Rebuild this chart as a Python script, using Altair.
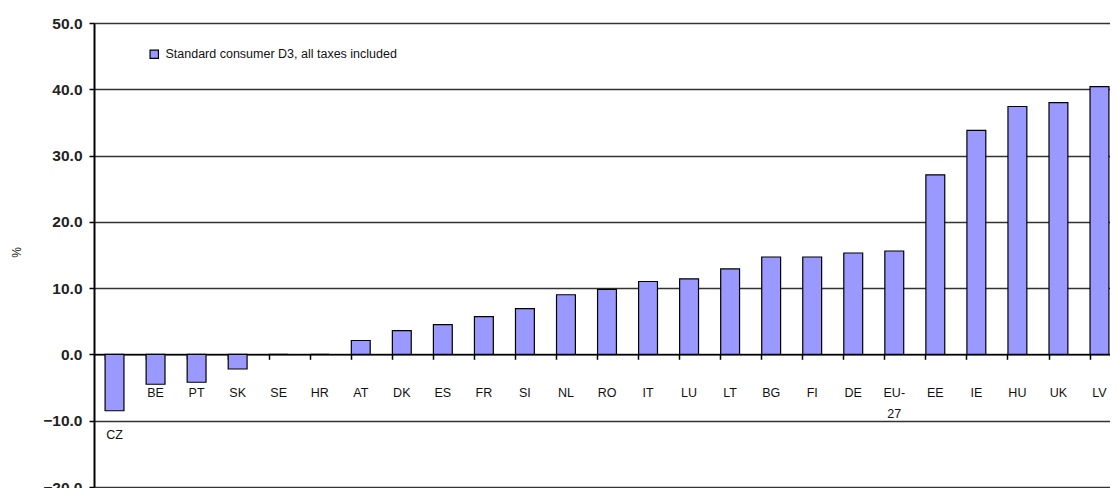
import altair as alt
import pandas as pd

countries = ["CZ", "BE", "PT", "SK", "SE", "HR", "AT", "DK", "ES", "FR", "SI", "NL", "RO",
             "IT", "LU", "LT", "BG", "FI", "DE", "EU-27", "EE", "IE", "HU", "UK", "LV"]
values = [-8.5, -4.5, -4.2, -2.2, 0.0, 0.0, 2.1, 3.6, 4.5, 5.7, 6.9, 9.0, 9.8,
          11.0, 11.4, 12.9, 14.7, 14.7, 15.3, 15.6, 27.1, 33.8, 37.4, 38.0, 40.4]
series_name = "Standard consumer D3, all taxes included"
y_ticks = [-20, -10, 0, 10, 20, 30, 40, 50]

df = pd.DataFrame({"country": countries, "value": values, "series": series_name})

FONT = "Liberation Sans"

x_enc = alt.X(
    "country:N",
    sort=None,
    scale=alt.Scale(paddingInner=0.54, paddingOuter=0.27, range=[0, 1026]),
    axis=alt.Axis(
        orient="bottom", offset=-132.7, labels=False, title=None,
        bandPosition=0, ticks=True, tickSize=5, tickColor="black", tickWidth=1.5,
        domain=True, domainColor="black", domainWidth=1.5, grid=False,
    ),
)

y_scale = alt.Scale(domain=[-20, 50], nice=False, zero=False)

bars = alt.Chart(df).mark_bar(stroke="black", strokeWidth=1.2).encode(
    x=x_enc,
    y=alt.Y(
        "value:Q",
        scale=y_scale,
        axis=alt.Axis(
            values=y_ticks, format=".1f", title="%", titleFont=FONT, titleFontSize=12,
            titleFontWeight="normal", titleColor="#222", titleX=-78, titleY=229,
            titleBaseline="middle", titleAlign="center",
            labelFont=FONT, labelFontSize=15.5, labelFontWeight="bold",
            labelColor="#222", labelPadding=7,
            tickSize=5, tickColor="black", tickWidth=1.5,
            domain=True, domainColor="black", domainWidth=2,
            grid=True, gridColor="#333333", gridWidth=1.6,
        ),
    ),
    color=alt.Color(
        "series:N",
        scale=alt.Scale(domain=[series_name], range=["#9999ff"]),
        legend=alt.Legend(
            orient="none", legendX=54, legendY=25, title=None,
            symbolType="square", symbolSize=70, symbolStrokeColor="black",
            symbolStrokeWidth=1.2, labelFont=FONT, labelFontSize=12.5,
            labelColor="#111", labelOffset=5, padding=0, labelLimit=0,
        ),
    ),
)

labels = alt.Chart(df).transform_calculate(
    label="replace(datum.country, '-', '-\\n')",
    labelY="datum.value < -6 ? datum.value - 2.8 : -4.95",
).mark_text(
    baseline="top", align="center", font=FONT, fontSize=12.5, color="#111",
    lineBreak="\n", lineHeight=21,
).encode(
    x=alt.X("country:N", sort=None),
    y=alt.Y("labelY:Q", scale=y_scale),
    text="label:N",
)

chart = alt.layer(bars, labels).properties(
    width=1016,
    height=464,
    autosize=alt.AutoSizeParams(type="none"),
    padding={"left": 86, "top": 15, "right": 0, "bottom": 2},
).configure_view(stroke=None).configure(background="white")

chart.save("out.html", embed_options={"renderer": "svg", "actions": False})
